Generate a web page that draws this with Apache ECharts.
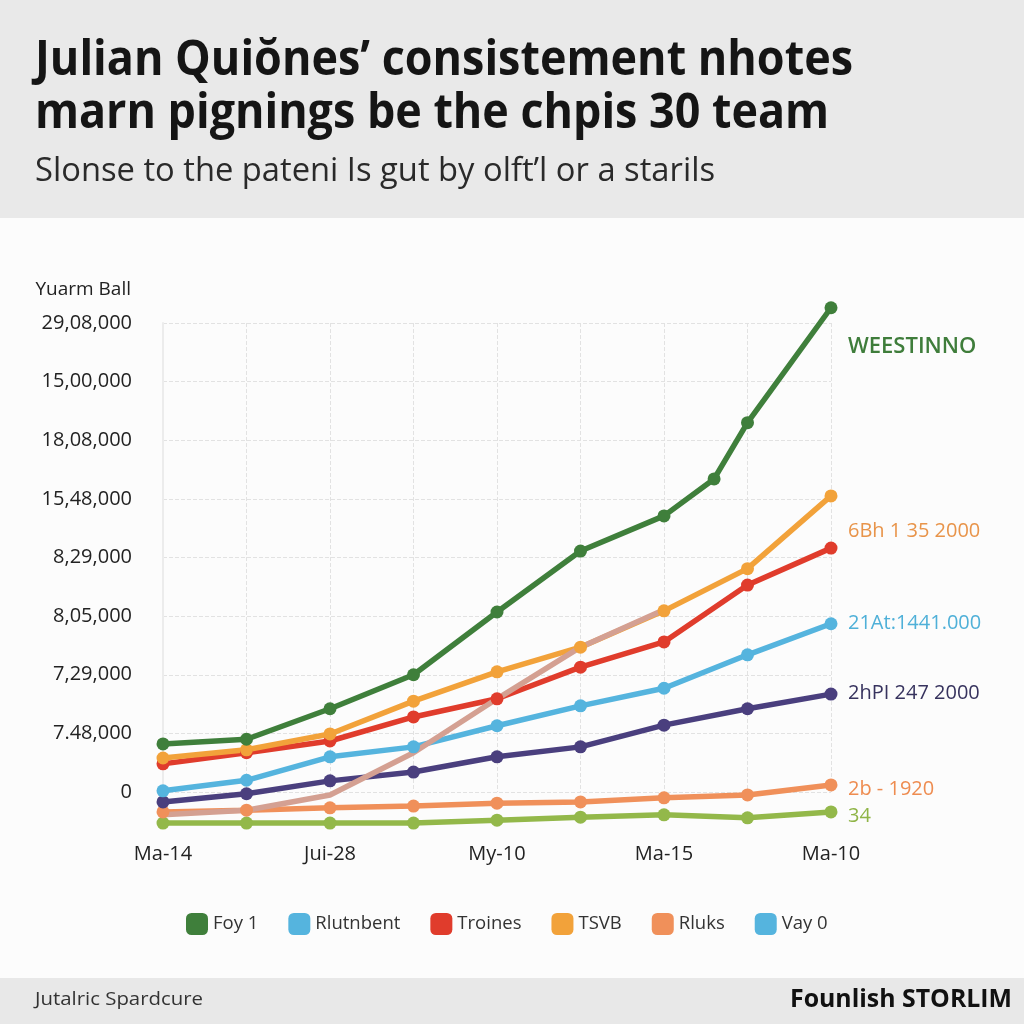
<!DOCTYPE html>
<html>
<head>
<meta charset="utf-8">
<script src="https://cdn.jsdelivr.net/npm/echarts@6/dist/echarts.min.js"></script>
<style>
  html, body { margin: 0; padding: 0; background: #fcfcfc; }
  #chart { width: 1024px; height: 1024px; }
</style>
</head>
<body>
<div id="chart"></div>
<script>
// tick labels
var xLabels = ['Ma-14', 'Jui-28', 'My-10', 'Ma-15', 'Ma-10'];
var yLabels = ['0', '7.48,000', '7,29,000', '8,05,000', '8,29,000', '15,48,000', '18,08,000', '15,00,000', '29,08,000'];

// x steps (gridline units), green has one extra point between steps
var steps = [0, 1, 2, 3, 4, 5, 6, 7, 8];
var greenSteps = [0, 1, 2, 3, 4, 5, 6, 6.6, 7, 8];
var pinkSteps = [0, 1, 2, 3, 4, 5, 6];

// values, in y gridline units
var foy1 = [0.82, 0.90, 1.42, 2.00, 3.07, 4.11, 4.71, 5.34, 6.30, 8.26];
var tsvb = [0.58, 0.72, 0.99, 1.55, 2.05, 2.47, 3.09, 3.81, 5.05];
var troines = [0.48, 0.67, 0.87, 1.28, 1.59, 2.13, 2.56, 3.53, 4.16];
var rlutnbent = [0.02, 0.20, 0.60, 0.77, 1.13, 1.47, 1.77, 2.34, 2.87];
var vay0 = [-0.17, -0.03, 0.19, 0.34, 0.60, 0.77, 1.14, 1.42, 1.67];
var rluks = [-0.34, -0.31, -0.27, -0.24, -0.19, -0.17, -0.10, -0.05, 0.12];
var lime = [-0.53, -0.53, -0.53, -0.53, -0.48, -0.43, -0.39, -0.44, -0.34];
var pink = [-0.39, -0.31, -0.05, 0.67, 1.59, 2.47, 3.11];

var legendNames = ['Foy 1', 'Rlutnbent', 'Troines', 'TSVB', 'Rluks', 'Vay 0'];

// labels at the right end
var endTexts = ['WEESTINNO', '6Bh 1 35 2000', '21At:1441.000', '2hPI 247 2000', '2b - 1920', '34'];

var chartDom = document.getElementById('chart');
var myChart = echarts.init(chartDom);

function pairs(xs, ys) {
    return ys.map(function (v, i) { return [xs[i], v]; });
}

// squeeze text to the width it has in the picture
var measureCtx = document.createElement('canvas').getContext('2d');
function fitScale(text, font, width) {
    measureCtx.font = font;
    return width / measureCtx.measureText(text).width;
}

var titleFont = 'bold 48px "Open Sans", sans-serif';
var subFont = '32px "Open Sans", sans-serif';
var title1 = 'Julian Quiŏnes’ consistement nhotes';
var title2 = 'marn pignings be the chpis 30 team';
var subtitle = 'Slonse to the pateni Is gut by olft’l or a starils';
var footLeft = 'Jutalric Spardcure';
var footRight = 'Founlish STORLIM';
var footFont = '19px "Open Sans", sans-serif';
var footBold = 'bold 25px "Open Sans", sans-serif';

function line(name, xs, ys, color, noSymbol) {
    return {
        name: name,
        type: 'line',
        data: pairs(xs, ys),
        symbol: noSymbol ? 'none' : 'circle',
        symbolSize: 13,
        clip: false,
        lineStyle: { width: 5.5, color: color },
        itemStyle: { color: color },
        emphasis: { disabled: true }
    };
}

var endColors = ['#3f7d3b', '#e8944a', '#4fb0d8', '#37335e', '#ee8c50', '#8fb446'];
var endY = [347, 531, 623, 693, 789, 816];

var graphics = [
    { type: 'rect', shape: { x: 0, y: 0, width: 1024, height: 218 }, style: { fill: '#e9e9e9' }, z: -10 },
    { type: 'rect', shape: { x: 0, y: 978, width: 1024, height: 46 }, style: { fill: '#e8e8e8' }, z: -10 },
    { type: 'text', x: 35, y: 61, scaleX: fitScale(title1, titleFont, 818),
      style: { text: title1, font: titleFont, fill: '#151515', verticalAlign: 'middle' } },
    { type: 'text', x: 35, y: 114, scaleX: fitScale(title2, titleFont, 794),
      style: { text: title2, font: titleFont, fill: '#151515', verticalAlign: 'middle' } },
    { type: 'text', x: 35, y: 172, scaleX: fitScale(subtitle, subFont, 680),
      style: { text: subtitle, font: subFont, fill: '#2a2a2a', verticalAlign: 'middle' } },
    { type: 'text', x: 35, y: 1000, scaleX: fitScale(footLeft, footFont, 168),
      style: { text: footLeft, font: footFont, fill: '#333', verticalAlign: 'middle' } },
    { type: 'text', x: 790, y: 1000, scaleX: fitScale(footRight, footBold, 222),
      style: { text: footRight, font: footBold, fill: '#111', verticalAlign: 'middle' } }
];
endTexts.forEach(function (t, i) {
    graphics.push({
        type: 'text', x: 848, y: endY[i],
        style: {
            text: t,
            font: (i === 0 ? '600 22px' : '20px') + ' "Open Sans", sans-serif',
            fill: endColors[i],
            verticalAlign: 'middle'
        }
    });
});

var option = {
    animation: false,
    backgroundColor: '#fcfcfc',
    textStyle: { fontFamily: '"Open Sans", sans-serif' },
    grid: { left: 163, right: 193, top: 323, bottom: 232 },
    legend: {
        data: legendNames.map(function (n) {
            return n === 'Vay 0' ? { name: n, itemStyle: { color: '#55b4de' } } : n;
        }),
        top: 908,
        left: 181,
        icon: 'roundRect',
        itemWidth: 22,
        itemHeight: 22,
        itemGap: 30,
        textStyle: { fontSize: 18.5, color: '#333' }
    },
    xAxis: {
        type: 'value',
        min: 0,
        max: 8,
        interval: 1,
        axisLine: { show: false },
        axisTick: { show: false },
        axisLabel: {
            fontSize: 20,
            color: '#222',
            margin: 52,
            formatter: function (v) { return v % 2 === 0 ? xLabels[v / 2] : ''; }
        },
        splitLine: { show: true, lineStyle: { type: 'dashed', color: '#e2e2e2' } }
    },
    yAxis: {
        type: 'value',
        min: 0,
        max: 8,
        interval: 1,
        name: 'Yuarm Ball',
        nameLocation: 'end',
        nameGap: 24,
        nameTextStyle: { fontSize: 19, color: '#222', align: 'right', padding: [0, 32, 0, 0] },
        axisLine: { show: true, lineStyle: { color: '#ececec', width: 2 } },
        axisTick: { show: false },
        axisLabel: {
            fontSize: 20,
            color: '#222',
            margin: 31,
            formatter: function (v) { return yLabels[v]; }
        },
        splitLine: { show: true, lineStyle: { type: 'dashed', color: '#e2e2e2' } }
    },
    graphic: graphics,
    series: [
        line('Series 7', steps, lime, '#93b84a'),
        line('Rluks', steps, rluks, '#f0905a'),
        line('Vay 0', steps, vay0, '#4a3f7e'),
        line('Rlutnbent', steps, rlutnbent, '#55b4de'),
        line('Troines', steps, troines, '#e03c2c'),
        line('TSVB', steps, tsvb, '#f2a23a'),
        line('Series 8', pinkSteps, pink, '#d4a092', true),
        line('Foy 1', greenSteps, foy1, '#3f7f3b')
    ]
};

myChart.setOption(option);
</script>
</body>
</html>
